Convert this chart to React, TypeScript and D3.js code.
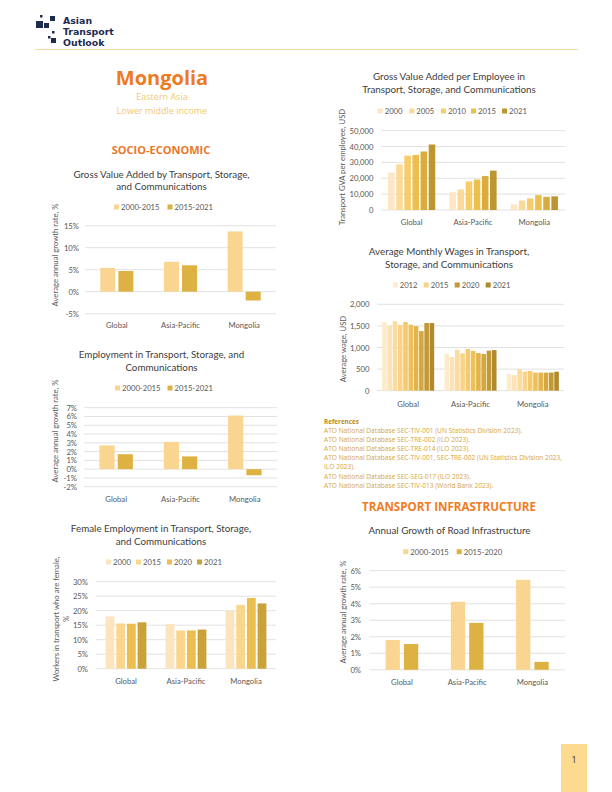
import React from "react";
import * as d3 from "d3";

// ---------- DATA ----------
const regions = ["Global", "Asia-Pacific", "Mongolia"];

const gvaPeriods = ["2000-2015", "2015-2021"];
const gvaGrowth = [
  [5.4, 6.8, 13.7],
  [4.7, 6.0, -2.0],
];

const empPeriods = ["2000-2015", "2015-2021"];
const empGrowth = [
  [2.7, 3.1, 6.1],
  [1.7, 1.45, -0.7],
];

const femYears = ["2000", "2015", "2020", "2021"];
const femShare = [
  [18.0, 15.4, 20.0],
  [15.6, 13.2, 22.0],
  [15.5, 13.2, 24.4],
  [16.0, 13.5, 22.5],
];

const gvaEmpYears = ["2000", "2005", "2010", "2015", "2020", "2021"];
const gvaPerEmp = [
  [23500, 11200, 3500],
  [28800, 13000, 6000],
  [34300, 18000, 7300],
  [34700, 19200, 9400],
  [36900, 21400, 8300],
  [41300, 24800, 8600],
];
const gvaEmpLegend = ["2000", "2005", "2010", "2015", "2021"];

const wageYears = ["2012", "2013", "2014", "2015", "2016", "2017", "2018", "2019", "2020", "2021"];
const wages = [
  [1585, 855, 385],
  [1505, 780, 360],
  [1605, 950, 495],
  [1525, 865, 445],
  [1590, 965, 455],
  [1528, 920, 420],
  [1495, 872, 418],
  [1380, 850, 418],
  [1566, 926, 420],
  [1566, 940, 440],
];
const wageLegend = ["2012", "2015", "2020", "2021"];

const roadPeriods = ["2000-2015", "2015-2020"];
const roadGrowth = [
  [1.8, 4.12, 5.45],
  [1.56, 2.84, 0.48],
];

const references = [
  "ATO National Database SEC-TIV-001 (UN Statistics Division 2023).",
  "ATO National Database SEC-TRE-002 (ILO 2023).",
  "ATO National Database SEC-TRE-014 (ILO 2023).",
  "ATO National Database SEC-TIV-001, SEC-TRE-002 (UN Statistics Division 2023,",
  "ILO 2023).",
  "ATO National Database SEC-SEG-017 (ILO 2023).",
  "ATO National Database SEC-TIV-013 (World Bank 2023).",
];

// ---------- STYLE ----------
const TWO = ["#FAD592", "#DEB143"];
const FOUR = ["#FCE4BE", "#F9D68C", "#EBBE4F", "#C9A23A"];
const SIX = ["#FCE6C4", "#FADA98", "#F7CD6C", "#EDBF4E", "#DAAC3D", "#BE962F"];
const TEN = ["#FDEBCB", "#FCE2B5", "#FBDBA0", "#F9D389", "#F5CA6E", "#EDC05A", "#E2B44B", "#D4A73F", "#C39934", "#B08A2C"];
const FONT = "Lato, 'Open Sans', sans-serif";
const HFONT = "'Open Sans', sans-serif";
const TXT = "#404040";
const TICK = "#595959";
const GRID = "#D9D9D9";

type LegendItem = { label: string; color: string; x: number };

type ChartProps = {
  series: string[];
  values: number[][];
  colors: string[];
  x0: number;
  x1: number;
  yDomain: [number, number];
  yRange: [number, number];
  ticks: number[];
  fmt: (v: number) => string;
  tickRight: number;
  catY: number;
  groupPad: number;
  barPad: number;
  title: string[];
  titleX: number;
  titleY: number[];
  legend: LegendItem[];
  legendY: number;
  yTitle: string[];
  yTitleX: number[];
  yTitleY: number;
};

function GroupedBars(p: ChartProps) {
  const xb = d3.scaleBand<string>().domain(regions).range([p.x0, p.x1]).paddingInner(p.groupPad).paddingOuter(p.groupPad / 2);
  const xs = d3.scaleBand<string>().domain(p.series).range([0, xb.bandwidth()]).paddingInner(p.barPad);
  const y = d3.scaleLinear().domain(p.yDomain).range(p.yRange);
  const y0 = y(0);
  return (
    <g>
      {p.title.map((t, i) => (
        <text key={"t" + i} x={p.titleX} y={p.titleY[i]} textAnchor="middle" dominantBaseline="central" fontSize={9.8} fill={TXT} fontFamily={FONT}>
          {t}
        </text>
      ))}
      {p.legend.map((l, i) => (
        <g key={"l" + i}>
          <rect x={l.x} y={p.legendY - 2.5} width={5} height={5} fill={l.color} />
          <text x={l.x + 7} y={p.legendY} dominantBaseline="central" fontSize={7.7} fill={TICK} fontFamily={FONT}>
            {l.label}
          </text>
        </g>
      ))}
      {p.ticks.map((t) => (
        <g key={"k" + t}>
          <line x1={p.x0} x2={p.x1} y1={y(t)} y2={y(t)} stroke={GRID} strokeWidth={0.8} />
          <text x={p.tickRight} y={y(t)} textAnchor="end" dominantBaseline="central" fontSize={7.7} fill={TICK} fontFamily={FONT}>
            {p.fmt(t)}
          </text>
        </g>
      ))}
      {p.series.map((s, si) =>
        regions.map((r, ri) => {
          const v = p.values[si][ri];
          const yv = y(v);
          return (
            <rect
              key={s + r}
              x={(xb(r) ?? 0) + (xs(s) ?? 0)}
              y={Math.min(yv, y0)}
              width={xs.bandwidth()}
              height={Math.abs(y0 - yv)}
              fill={p.colors[si]}
            />
          );
        })
      )}
      {regions.map((r) => (
        <text key={"c" + r} x={(xb(r) ?? 0) + xb.bandwidth() / 2} y={p.catY} textAnchor="middle" dominantBaseline="central" fontSize={7.7} fill={TICK} fontFamily={FONT}>
          {r}
        </text>
      ))}
      {p.yTitle.map((t, i) => (
        <text
          key={"y" + i}
          transform={`translate(${p.yTitleX[i]},${p.yTitleY}) rotate(-90)`}
          textAnchor="middle"
          dominantBaseline="central"
          fontSize={7.7}
          fill={TICK}
          fontFamily={FONT}
        >
          {t}
        </text>
      ))}
    </g>
  );
}

const pct = (v: number) => `${v}%`;
const comma = d3.format(",");

function Logo() {
  const navy = "#1D2B4F";
  const sq: [number, number, number][] = [
    [36, 21, 7],
    [44, 23, 5],
    [40, 15, 2.5],
    [50, 16, 5],
    [52, 31, 2.5],
    [48, 36, 2.5],
    [51, 38, 5],
  ];
  const lines = ["Asian", "Transport", "Outlook"];
  return (
    <g>
      {sq.map(([x, y, s], i) => (
        <rect key={i} x={x} y={y} width={s} height={s} fill={navy} />
      ))}
      {lines.map((t, i) => (
        <text key={t} x={63} y={20.5 + i * 11.1} dominantBaseline="central" fontSize={9.4} fontWeight={700} fill={navy} fontFamily="'DejaVu Sans', sans-serif">
          {t}
        </text>
      ))}
    </g>
  );
}

export default function App() {
  return (
    <svg width={612} height={792} style={{ position: "absolute", left: 0, top: 0, background: "#fff" }}>
      <rect width={612} height={792} fill="#fff" />
      <Logo />
      <line x1={35} x2={578} y1={49.5} y2={49.5} stroke="#F6D99C" strokeWidth={1} />

      <text x={162} y={77} textAnchor="middle" dominantBaseline="central" fontSize={20} fontWeight={700} fill="#EE7A22" fontFamily={HFONT}>Mongolia</text>
      <text x={162} y={96.5} textAnchor="middle" dominantBaseline="central" fontSize={9} fill="#F5C86C" fontFamily={HFONT}>Eastern Asia</text>
      <text x={162} y={110} textAnchor="middle" dominantBaseline="central" fontSize={9} fill="#F5C86C" fontFamily={HFONT}>Lower middle income</text>
      <text x={161} y={149} textAnchor="middle" dominantBaseline="central" fontSize={11} fontWeight={700} fill="#E9782A" fontFamily={HFONT}>SOCIO-ECONOMIC</text>

      <GroupedBars
        series={gvaPeriods}
        values={gvaGrowth}
        colors={TWO}
        x0={85}
        x1={276}
        yDomain={[-5, 15]}
        yRange={[313.7, 225.7]}
        ticks={[-5, 0, 5, 10, 15]}
        fmt={pct}
        tickRight={79}
        catY={325}
        groupPad={0.48}
        barPad={0.17}
        title={["Gross Value Added by Transport, Storage,", "and Communications"]}
        titleX={161.5}
        titleY={[173.5, 186]}
        legend={[
          { label: gvaPeriods[0], color: TWO[0], x: 114 },
          { label: gvaPeriods[1], color: TWO[1], x: 167.5 },
        ]}
        legendY={207}
        yTitle={["Average annual growth rate, %"]}
        yTitleX={[54.5]}
        yTitleY={255}
      />

      <GroupedBars
        series={empPeriods}
        values={empGrowth}
        colors={TWO}
        x0={84}
        x1={277}
        yDomain={[-2, 7]}
        yRange={[486.7, 407.7]}
        ticks={[-2, -1, 0, 1, 2, 3, 4, 5, 6, 7]}
        fmt={pct}
        tickRight={77}
        catY={499}
        groupPad={0.48}
        barPad={0.17}
        title={["Employment in Transport, Storage, and", "Communications"]}
        titleX={161.5}
        titleY={[354, 367]}
        legend={[
          { label: empPeriods[0], color: TWO[0], x: 115 },
          { label: empPeriods[1], color: TWO[1], x: 167.5 },
        ]}
        legendY={388}
        yTitle={["Average annual growth rate, %"]}
        yTitleX={[54.5]}
        yTitleY={431}
      />

      <GroupedBars
        series={femYears}
        values={femShare}
        colors={FOUR}
        x0={96}
        x1={276}
        yDomain={[0, 30]}
        yRange={[668.7, 581.7]}
        ticks={[0, 5, 10, 15, 20, 25, 30]}
        fmt={pct}
        tickRight={88}
        catY={681}
        groupPad={0.32}
        barPad={0.18}
        title={["Female Employment in Transport, Storage,", "and Communications"]}
        titleX={161}
        titleY={[527.7, 541]}
        legend={femYears.map((l, i) => ({ label: l, color: FOUR[i], x: [106, 136, 167, 197][i] }))}
        legendY={562}
        yTitle={["Workers in transport who are female,", "%"]}
        yTitleX={[55.5, 65.5]}
        yTitleY={619}
      />

      <GroupedBars
        series={gvaEmpYears}
        values={gvaPerEmp}
        colors={SIX}
        x0={381}
        x1={565}
        yDomain={[0, 50000]}
        yRange={[210, 130.7]}
        ticks={[0, 10000, 20000, 30000, 40000, 50000]}
        fmt={comma}
        tickRight={373.5}
        catY={221.7}
        groupPad={0.23}
        barPad={0.19}
        title={["Gross Value Added per Employee in", "Transport, Storage, and Communications"]}
        titleX={449}
        titleY={[76, 89.3]}
        legend={gvaEmpLegend.map((l, i) => ({ label: l, color: SIX[gvaEmpYears.indexOf(l)], x: [377.7, 409.3, 441, 471, 502][i] }))}
        legendY={111}
        yTitle={["Transport GVA per employee, USD"]}
        yTitleX={[341.7]}
        yTitleY={167}
      />

      <GroupedBars
        series={wageYears}
        values={wages}
        colors={TEN}
        x0={377}
        x1={564}
        yDomain={[0, 2000]}
        yRange={[390.7, 304.3]}
        ticks={[0, 500, 1000, 1500, 2000]}
        fmt={comma}
        tickRight={369.5}
        catY={403.7}
        groupPad={0.165}
        barPad={0.13}
        title={["Average Monthly Wages in Transport,", "Storage, and Communications"]}
        titleX={449}
        titleY={[251, 264.3]}
        legend={wageLegend.map((l, i) => ({ label: l, color: TEN[wageYears.indexOf(l)], x: [392.7, 423.7, 454.7, 485.7][i] }))}
        legendY={285}
        yTitle={["Average wage, USD"]}
        yTitleX={[342.7]}
        yTitleY={349}
      />

      <text x={324} y={421.7} dominantBaseline="central" fontSize={6.3} fontWeight={700} fill="#B98B2B" fontFamily={HFONT}>References</text>
      {references.map((r, i) => (
        <text key={i} x={324} y={[430.7, 439.3, 448.3, 457.3, 466, 476, 485.3][i]} dominantBaseline="central" fontSize={6.6} fill="#D6A53C" fontFamily={HFONT}>
          {r}
        </text>
      ))}
      <text x={449} y={506} textAnchor="middle" dominantBaseline="central" fontSize={11.6} fontWeight={700} fill="#EF7C22" fontFamily={HFONT}>TRANSPORT INFRASTRUCTURE</text>

      <GroupedBars
        series={roadPeriods}
        values={roadGrowth}
        colors={TWO}
        x0={369.3}
        x1={565}
        yDomain={[0, 6]}
        yRange={[669.8, 570.7]}
        ticks={[0, 1, 2, 3, 4, 5, 6]}
        fmt={pct}
        tickRight={361}
        catY={682}
        groupPad={0.5}
        barPad={0.22}
        title={["Annual Growth of Road Infrastructure"]}
        titleX={449.5}
        titleY={[530]}
        legend={[
          { label: roadPeriods[0], color: TWO[0], x: 403.3 },
          { label: roadPeriods[1], color: TWO[1], x: 456.7 },
        ]}
        legendY={551.7}
        yTitle={["Average annual growth rate, %"]}
        yTitleX={[342.7]}
        yTitleY={612}
      />

      <rect x={561} y={744} width={26} height={48} fill="#FDDB8E" />
      <text x={574} y={759} textAnchor="middle" dominantBaseline="central" fontSize={9} fill="#333" fontFamily={HFONT}>1</text>
    </svg>
  );
}
